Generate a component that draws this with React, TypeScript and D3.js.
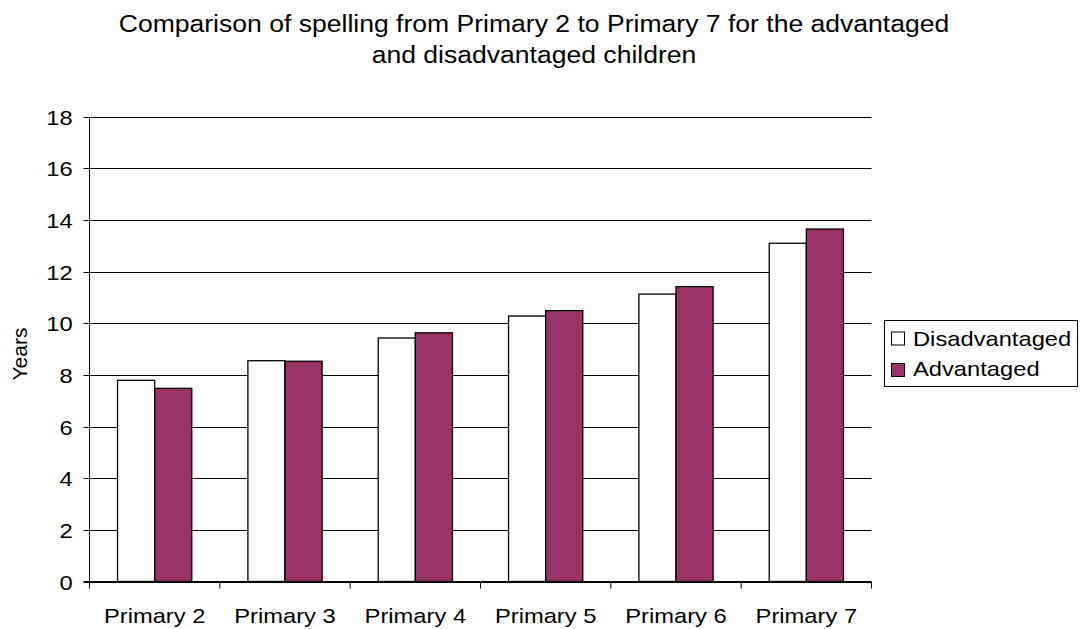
import React from "react";
import * as d3 from "d3";

const categories = ["Primary 2", "Primary 3", "Primary 4", "Primary 5", "Primary 6", "Primary 7"];
const disadvantaged = [7.79, 8.55, 9.43, 10.28, 11.13, 13.1];
const advantaged = [7.48, 8.53, 9.63, 10.49, 11.42, 13.65];
const seriesNames = ["Disadvantaged", "Advantaged"];
const seriesColors = ["#ffffff", "#993366"];
const yTicks = [0, 2, 4, 6, 8, 10, 12, 14, 16, 18];

const W = 1081, H = 629;
const left = 89.5, right = 871.5, top = 116.7, bottom = 581.5;
const font = "Liberation Sans, Arial, sans-serif";
const SX = 1.13;

function T({ x, y, size, anchor = "start", children }: { x: number; y: number; size: number; anchor?: string; children: React.ReactNode }) {
  return (
    <text transform={`translate(${x},${y}) scale(${SX},1)`} textAnchor={anchor as any} fontSize={size} fill="#000">
      {children}
    </text>
  );
}

export default function App() {
  const x = d3.scaleBand<string>().domain(categories).range([left, right]).paddingInner(0).paddingOuter(0);
  const y = d3.scaleLinear().domain([0, 18]).range([bottom, top]);
  const inner = d3.scaleBand<string>().domain(seriesNames).range([0, x.bandwidth()]).paddingInner(0).paddingOuter(0.756);
  const data = [disadvantaged, advantaged];
  return (
    <svg width={W} height={H} style={{ position: "absolute", left: 0, top: 0, background: "#fff" }} fontFamily={font}>
      <T x={534} y={31.5} size={23.5} anchor="middle">Comparison of spelling from Primary 2 to Primary 7 for the advantaged</T>
      <T x={534} y={62.5} size={23.5} anchor="middle">and disadvantaged children</T>
      {yTicks.map((t) => (
        <g key={t}>
          <line x1={left - 6} x2={right} y1={Math.round(y(t)) + 0.5} y2={Math.round(y(t)) + 0.5} stroke="#000" strokeWidth={1} />
          <T x={72.7} y={y(t) + 8} size={21} anchor="end">{t}</T>
        </g>
      ))}
      <line x1={left} x2={left} y1={top} y2={bottom} stroke="#000" />
      {categories.map((c, i) => (
        <g key={c}>
          {data.map((vals, s) => (
            <rect key={s} x={x(c)! + inner(seriesNames[s])!} y={y(vals[i])} width={inner.bandwidth()} height={bottom - y(vals[i])}
              fill={seriesColors[s]} stroke="#000" strokeWidth={1.3} />
          ))}
          <T x={x(c)! + x.bandwidth() / 2} y={623.3} size={21} anchor="middle">{c}</T>
        </g>
      ))}
      {categories.concat([""]).map((c, i) => (
        <line key={i} x1={left + i * x.bandwidth()} x2={left + i * x.bandwidth()} y1={bottom} y2={bottom + 7} stroke="#000" />
      ))}
      <line x1={left - 6} x2={right} y1={bottom} y2={bottom} stroke="#000" strokeWidth={1} />
      <text transform={`translate(27,354) rotate(-90)`} textAnchor="middle" fontSize={21}>Years</text>
      <rect x={884.5} y={320.5} width={193} height={66} fill="#fff" stroke="#000" />
      {seriesNames.map((n, s) => (
        <g key={n}>
          <rect x={891.5} y={332 + s * 31.5} width={13} height={13} fill={seriesColors[s]} stroke="#000" />
          <T x={913} y={346 + s * 29.5} size={21}>{n}</T>
        </g>
      ))}
    </svg>
  );
}
